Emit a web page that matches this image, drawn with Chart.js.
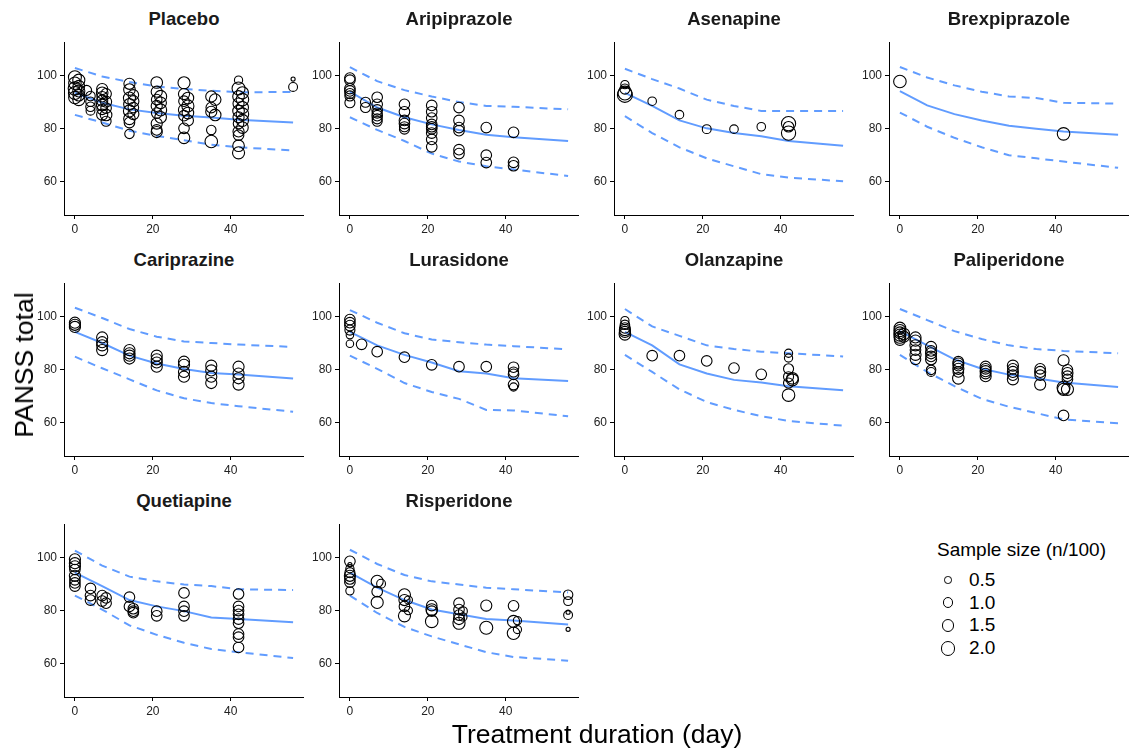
<!DOCTYPE html>
<html>
<head>
<meta charset="utf-8">
<script src="https://cdn.jsdelivr.net/npm/chart.js@4.4.1/dist/chart.umd.min.js"></script>
<style>
  body { margin: 0; background: #fff; font-family: "Liberation Sans", Arial, sans-serif; }
  #wrap { position: relative; width: 1129px; height: 751px; overflow: hidden; }
  #wrap canvas { position: absolute; }
  .facet-title { position: absolute; font-weight: bold; font-size: 18.5px; color: #1a1a1a; text-align: center; line-height: 22px; white-space: nowrap; }
  .axis-title { position: absolute; font-size: 26.5px; color: #000; white-space: nowrap; line-height: 30px; }
  #legend { position: absolute; left: 937px; top: 538px; font-size: 19px; color: #000; }
  .leg-row { position: absolute; left: 0; height: 22px; width: 80px; }
  .leg-dot { position: absolute; border: 1px solid #000; border-radius: 50%; box-sizing: border-box; }
  .leg-lab { position: absolute; left: 32px; top: 0; line-height: 22px; }
</style>
</head>
<body>
<div id="wrap"></div>
<script>
const lineDays = [0, 7, 14, 21, 28, 35, 42, 56];
const xTicks = [0, 20, 40];
const yTicks = [60, 80, 100];
const legendSizes = [0.5, 1.0, 1.5, 2.0];

// observed means: [day, PANSS total, sample size n/100]
const placeboObs = [
  [0, 99.5, 1.5], [1, 98.4, 1.3], [0, 97.2, 1.4], [1, 96.1, 1.2], [0, 95.2, 1.6], [1, 94.3, 1.3], [0, 93.5, 1.5], [1, 92.7, 1.2], [0, 91.8, 1.4], [1, 91.0, 1.3],
  [3, 94.5, 0.9], [4, 92.4, 0.8], [4, 90.2, 0.8], [4, 88.3, 0.8], [4, 86.8, 0.7],
  [7, 95.0, 1.1], [7, 93.6, 1.2], [7, 92.1, 1.0], [7, 90.6, 1.1], [7, 89.0, 1.2], [7, 87.3, 1.0], [7, 85.3, 1.1], [8, 93.2, 1.0], [8, 90.2, 1.1], [8, 87.8, 1.0], [8, 85.2, 1.2], [8, 82.8, 0.9],
  [14, 97.0, 1.1], [14, 94.8, 1.2], [15, 92.8, 1.0], [14, 91.6, 1.3], [15, 90.4, 1.1], [14, 89.2, 1.2], [15, 88.0, 1.0], [14, 86.7, 1.3], [15, 85.5, 1.1], [14, 83.7, 1.2], [14, 82.3, 1.0], [14, 78.0, 0.8],
  [21, 97.5, 1.2], [21, 94.0, 1.1], [22, 92.2, 1.3], [21, 91.0, 1.0], [22, 89.8, 1.2], [21, 88.6, 1.1], [22, 87.1, 1.3], [21, 85.9, 1.0], [22, 84.3, 1.2], [21, 81.9, 1.1], [21, 79.5, 1.0], [21, 78.7, 1.1],
  [28, 97.4, 1.3], [28, 93.1, 1.1], [29, 91.6, 1.2], [28, 90.4, 1.0], [29, 88.6, 1.3], [28, 87.1, 1.1], [29, 85.9, 1.2], [28, 84.9, 1.0], [29, 83.1, 1.1], [28, 80.1, 1.0], [28, 76.5, 1.2],
  [35, 92.2, 1.1], [36, 91.0, 1.2], [35, 88.0, 1.0], [35, 86.4, 1.1], [36, 85.2, 1.2], [35, 79.5, 0.8], [35, 75.1, 1.4],
  [42, 98.4, 0.6], [42, 95.2, 1.5], [43, 93.6, 1.3], [42, 92.2, 1.2], [43, 91.0, 1.4], [42, 89.5, 1.1], [43, 88.0, 1.3], [42, 86.7, 1.2], [43, 85.5, 1.4], [42, 84.3, 1.1], [43, 83.1, 1.3], [42, 81.9, 1.0], [43, 80.4, 1.2], [42, 78.9, 1.1], [42, 77.5, 1.0], [42, 73.5, 1.2], [42, 70.8, 1.3],
  [56, 95.8, 0.7], [56, 98.8, 0.15]
];
const placeboMedian = [93.6, 89.8, 87.3, 85.9, 84.9, 84.2, 83.4, 82.3];
const placeboLower = [85.2, 82.3, 79.2, 77.2, 75.6, 73.9, 72.9, 71.7];
const placeboUpper = [103.0, 99.8, 97.7, 96.0, 95.0, 94.4, 93.8, 93.9];

const aripiprazoleObs = [
  [0, 99.2, 1.0], [0, 98.4, 1.0], [0, 95.2, 1.0], [0, 94.3, 1.0], [0, 93.3, 0.9], [0, 92.4, 0.9], [0, 89.8, 0.9],
  [4, 90.0, 0.9], [4, 88.0, 0.9],
  [7, 91.9, 1.0], [7, 89.2, 1.0], [7, 87.1, 1.0], [7, 85.9, 0.9], [7, 84.9, 1.0], [7, 83.7, 0.9], [7, 82.8, 0.9],
  [14, 89.2, 1.0], [14, 86.4, 1.0], [14, 83.1, 1.0], [14, 81.9, 1.0], [14, 80.7, 0.9], [14, 79.8, 0.9],
  [21, 88.8, 1.0], [21, 86.4, 1.0], [21, 84.0, 1.0], [21, 81.6, 1.0], [21, 80.7, 1.0], [21, 79.9, 1.0], [21, 78.3, 1.0], [21, 75.9, 1.0], [21, 73.1, 1.0],
  [28, 88.0, 1.0], [28, 83.1, 1.0], [28, 80.4, 1.0], [28, 79.2, 1.0], [28, 72.0, 1.0], [28, 70.5, 1.0],
  [35, 80.4, 1.0], [35, 69.9, 1.0], [35, 67.1, 1.0],
  [42, 78.6, 1.0], [42, 67.2, 1.0], [42, 65.9, 1.0]
];
const aripiprazoleMedian = [94.0, 88.0, 84.3, 81.6, 79.5, 77.7, 76.7, 75.3];
const aripiprazoleLower = [84.3, 79.5, 75.3, 70.5, 67.5, 65.7, 64.5, 62.0];
const aripiprazoleUpper = [103.3, 98.0, 94.6, 92.2, 90.1, 88.6, 88.3, 87.3];

const asenapineObs = [
  [0, 96.7, 0.6], [0, 95.0, 0.9], [0, 93.5, 1.7], [0, 92.8, 2.0],
  [7, 90.4, 0.65], [14, 85.3, 0.65], [21, 79.8, 0.7], [28, 79.8, 0.65], [35, 80.7, 0.65],
  [42, 81.9, 1.8], [42, 80.7, 1.0], [42, 78.3, 1.8]
];
const asenapineMedian = [93.6, 88.6, 83.1, 80.1, 78.3, 77.1, 75.3, 73.5];
const asenapineLower = [84.7, 78.3, 72.9, 68.7, 65.7, 62.7, 61.4, 60.0];
const asenapineUpper = [102.7, 98.8, 95.2, 91.0, 88.6, 86.7, 86.7, 86.7];

const brexpiprazoleObs = [[0, 97.9, 1.4], [42, 78.0, 1.4]];
const brexpiprazoleMedian = [94.2, 88.8, 85.5, 83.1, 81.1, 79.9, 78.9, 77.7];
const brexpiprazoleLower = [86.1, 80.7, 76.5, 72.9, 69.9, 68.7, 67.5, 65.1];
const brexpiprazoleUpper = [103.4, 99.4, 96.4, 94.0, 92.2, 91.6, 89.8, 89.5];

const cariprazineObs = [
  [0, 97.8, 1.1], [0, 97.0, 1.1], [0, 96.2, 1.1],
  [7, 92.2, 1.1], [7, 90.4, 1.1], [7, 89.2, 1.1], [7, 87.4, 1.1],
  [14, 87.4, 1.1], [14, 86.2, 1.1], [14, 85.3, 1.1], [14, 84.2, 1.1],
  [21, 85.3, 1.1], [21, 83.9, 1.1], [21, 82.7, 1.1], [21, 81.1, 1.1],
  [28, 83.0, 1.1], [28, 81.8, 1.1], [28, 79.1, 1.1], [28, 77.3, 1.1],
  [35, 81.5, 1.1], [35, 79.7, 1.1], [35, 77.3, 1.1], [35, 74.9, 1.1],
  [42, 81.1, 1.1], [42, 78.5, 1.1], [42, 76.7, 1.1], [42, 74.3, 1.1]
];
const cariprazineMedian = [94.3, 90.1, 85.3, 82.3, 80.2, 78.7, 78.1, 76.6];
const cariprazineLower = [84.9, 80.5, 76.3, 72.1, 69.1, 67.3, 66.1, 64.0];
const cariprazineUpper = [103.5, 99.6, 95.4, 92.5, 90.7, 90.1, 89.5, 88.6];

const lurasidoneObs = [
  [0, 99.0, 1.0], [0, 97.8, 1.0], [0, 96.7, 1.0], [0, 95.0, 0.9], [0, 93.1, 0.5], [0, 89.8, 0.5],
  [3, 89.6, 1.0], [7, 86.8, 1.0], [14, 84.7, 1.0], [21, 81.8, 1.0], [28, 81.1, 1.0], [35, 81.1, 1.0],
  [42, 80.9, 1.0], [42, 79.1, 0.9], [42, 78.2, 1.0], [42, 74.3, 1.0], [42, 73.4, 0.6]
];
const lurasidoneMedian = [94.3, 89.2, 85.6, 82.7, 79.4, 78.5, 76.7, 75.7];
const lurasidoneLower = [85.3, 80.3, 74.9, 71.5, 68.9, 64.7, 64.5, 62.3];
const lurasidoneUpper = [102.6, 97.8, 93.8, 91.4, 90.4, 89.5, 88.9, 87.7];

const olanzapineObs = [
  [0, 98.6, 0.6], [0, 97.0, 0.8], [0, 95.8, 1.0], [0, 95.0, 1.1], [0, 94.3, 1.1], [0, 93.4, 1.2],
  [7, 85.3, 1.0], [14, 85.3, 1.0], [21, 83.3, 1.0], [28, 80.6, 1.0], [35, 78.2, 1.0],
  [42, 86.2, 0.6], [42, 84.4, 0.6], [42, 80.3, 0.9], [42, 77.3, 0.9], [42, 74.9, 0.9], [42, 70.3, 1.4], [43, 76.1, 1.3], [43, 76.7, 1.2]
];
const olanzapineMedian = [94.3, 89.2, 82.0, 78.5, 76.1, 75.1, 73.7, 72.2];
const olanzapineLower = [85.6, 79.1, 72.5, 67.7, 64.7, 62.3, 60.5, 58.7];
const olanzapineUpper = [103.0, 96.4, 92.8, 89.2, 87.8, 86.8, 86.2, 85.0];

const paliperidoneObs = [
  [0, 95.8, 1.2], [0, 94.8, 1.3], [0, 94.0, 1.2], [0, 93.1, 1.3], [0, 92.2, 1.2], [0, 91.3, 1.1], [1, 93.5, 1.2], [1, 92.5, 1.1],
  [4, 92.2, 1.1], [4, 91.0, 1.1], [4, 89.2, 1.1], [4, 87.4, 1.0], [4, 85.6, 1.1], [4, 83.9, 1.0],
  [8, 88.6, 1.1], [8, 87.1, 1.0], [8, 86.2, 1.1], [8, 85.0, 1.0], [8, 83.9, 1.1], [8, 79.9, 0.8], [8, 79.1, 0.7],
  [15, 83.0, 1.0], [15, 82.3, 1.1], [15, 81.5, 1.0], [15, 80.3, 1.1], [15, 79.1, 1.0], [15, 76.7, 1.2],
  [22, 81.1, 1.1], [22, 80.3, 1.0], [22, 79.4, 1.1], [22, 78.5, 1.0], [22, 77.5, 1.1],
  [29, 81.5, 1.1], [29, 80.3, 1.0], [29, 79.1, 1.1], [29, 77.9, 1.0], [29, 76.3, 1.1],
  [36, 80.3, 1.0], [36, 79.1, 1.1], [36, 77.9, 1.0], [36, 74.3, 1.1],
  [42, 83.5, 1.1], [42, 73.1, 1.5], [42, 72.5, 1.3], [42, 62.6, 1.0],
  [43, 79.9, 1.0], [43, 78.7, 1.1], [43, 77.5, 1.0], [43, 76.3, 1.0], [43, 72.5, 1.3]
];
const paliperidoneMedian = [94.6, 89.2, 83.9, 80.3, 78.1, 76.7, 75.1, 73.4];
const paliperidoneLower = [85.6, 79.1, 73.7, 68.9, 65.9, 63.5, 61.1, 59.6];
const paliperidoneUpper = [103.0, 98.8, 94.6, 91.6, 89.2, 87.8, 87.1, 86.2];

const quetiapineObs = [
  [0, 99.5, 1.1], [0, 98.0, 1.1], [0, 96.8, 1.1], [0, 95.6, 1.0], [0, 93.2, 1.1], [0, 91.7, 1.0], [0, 90.5, 1.0], [0, 89.3, 1.0],
  [4, 88.4, 1.0], [4, 85.7, 1.0], [4, 84.0, 1.0],
  [7, 85.7, 1.0], [8, 84.8, 1.0], [7, 83.6, 1.0], [8, 82.8, 1.0],
  [14, 85.1, 1.0], [14, 81.6, 1.0], [15, 80.7, 1.0], [15, 79.8, 1.0], [15, 79.2, 1.0],
  [21, 79.8, 1.0], [21, 78.0, 1.0],
  [28, 86.7, 1.0], [28, 81.6, 1.0], [28, 79.8, 1.0], [28, 78.0, 1.0],
  [42, 86.3, 1.0], [42, 81.6, 1.0], [42, 80.0, 1.0], [42, 78.6, 1.0], [42, 76.8, 1.0], [42, 75.2, 1.0], [42, 71.1, 1.0], [42, 69.9, 1.0], [42, 66.0, 1.0]
];
const quetiapineMedian = [94.4, 89.3, 84.0, 81.6, 79.8, 77.4, 76.8, 75.6];
const quetiapineLower = [85.7, 80.4, 74.4, 70.8, 67.8, 65.4, 64.2, 62.0];
const quetiapineUpper = [102.8, 97.1, 92.9, 91.1, 89.9, 89.3, 88.1, 87.8];

const risperidoneObs = [
  [0, 98.7, 1.0], [0, 97.5, 0.15], [0, 95.9, 0.6], [0, 94.4, 0.9], [0, 93.2, 1.1], [0, 92.0, 1.0], [0, 90.8, 1.0], [0, 87.5, 0.6],
  [7, 91.1, 1.3], [7, 87.2, 1.0], [7, 83.1, 1.3], [8, 90.2, 0.7],
  [14, 86.0, 1.3], [14, 84.0, 1.1], [14, 81.6, 1.0], [14, 78.0, 1.3], [15, 84.0, 0.6], [15, 80.0, 0.6],
  [21, 81.9, 1.0], [21, 80.4, 1.2], [21, 79.8, 1.0], [21, 75.9, 1.4],
  [28, 82.8, 1.0], [28, 80.4, 1.0], [28, 78.3, 1.0], [28, 76.8, 1.1], [28, 75.2, 1.3], [29, 79.8, 0.7], [29, 77.6, 0.6],
  [35, 81.9, 1.1], [35, 73.5, 1.5],
  [42, 81.8, 1.0], [42, 75.9, 1.3], [42, 71.4, 1.4], [43, 76.2, 0.6], [43, 72.8, 0.6],
  [56, 86.0, 0.8], [56, 83.6, 0.7], [56, 79.4, 0.15], [56, 78.3, 0.7], [56, 72.9, 0.15]
];
const risperidoneMedian = [94.4, 88.7, 84.0, 80.4, 78.6, 76.8, 76.2, 74.7];
const risperidoneLower = [85.7, 79.1, 73.8, 70.2, 67.2, 64.2, 62.4, 61.0];
const risperidoneUpper = [103.1, 97.7, 93.5, 91.1, 89.9, 88.7, 88.1, 86.9];

const panels = [
  { name: "Placebo", obs: placeboObs, median: placeboMedian, lower: placeboLower, upper: placeboUpper },
  { name: "Aripiprazole", obs: aripiprazoleObs, median: aripiprazoleMedian, lower: aripiprazoleLower, upper: aripiprazoleUpper },
  { name: "Asenapine", obs: asenapineObs, median: asenapineMedian, lower: asenapineLower, upper: asenapineUpper },
  { name: "Brexpiprazole", obs: brexpiprazoleObs, median: brexpiprazoleMedian, lower: brexpiprazoleLower, upper: brexpiprazoleUpper },
  { name: "Cariprazine", obs: cariprazineObs, median: cariprazineMedian, lower: cariprazineLower, upper: cariprazineUpper },
  { name: "Lurasidone", obs: lurasidoneObs, median: lurasidoneMedian, lower: lurasidoneLower, upper: lurasidoneUpper },
  { name: "Olanzapine", obs: olanzapineObs, median: olanzapineMedian, lower: olanzapineLower, upper: olanzapineUpper },
  { name: "Paliperidone", obs: paliperidoneObs, median: paliperidoneMedian, lower: paliperidoneLower, upper: paliperidoneUpper },
  { name: "Quetiapine", obs: quetiapineObs, median: quetiapineMedian, lower: quetiapineLower, upper: quetiapineUpper },
  { name: "Risperidone", obs: risperidoneObs, median: risperidoneMedian, lower: risperidoneLower, upper: risperidoneUpper }
];

// facet grid geometry
const COL_LEFT = [64, 339, 614, 889];
const ROW_TOP = [32, 273, 514];
const PLOT_W = 240, PLOT_H = 183;
const AXIS_W = 44, AXIS_H = 26;
const X_MIN = -2.8, X_MAX = 58.8;
const Y_MIN = 47.2, Y_MAX = 112.8;
const BLUE = "#619CFF";
const FONT = "'Liberation Sans', Arial, sans-serif";

const wrap = document.getElementById("wrap");

function sizeRadius(n) {
  return 5.3 * Math.sqrt(n);
}

function axisOptions(min, max, ticks, fitFn) {
  return {
    type: "linear",
    min: min,
    max: max,
    afterBuildTicks: (s) => { s.ticks = ticks.map((v) => ({ value: v })); },
    afterFit: fitFn,
    grid: { display: true, drawOnChartArea: false, drawTicks: true, tickLength: 4, color: "#000", lineWidth: 1 },
    border: { display: true, color: "#000", width: 1 },
    ticks: { color: "#222", font: { family: FONT, size: 12 }, padding: 3, maxRotation: 0 }
  };
}

function buildPanel(panel, i) {
  const col = i % 4;
  const row = Math.floor(i / 4);
  const left = COL_LEFT[col];
  const top = ROW_TOP[row];

  const canvas = document.createElement("canvas");
  canvas.width = AXIS_W + PLOT_W;
  canvas.height = PLOT_H + AXIS_H;
  canvas.style.left = (left - AXIS_W) + "px";
  canvas.style.top = top + "px";
  wrap.appendChild(canvas);

  const title = document.createElement("div");
  title.className = "facet-title";
  title.textContent = panel.name;
  title.style.left = left + "px";
  title.style.width = PLOT_W + "px";
  title.style.top = (top - 24) + "px";
  wrap.appendChild(title);

  const band = (vals) => lineDays.map((d, k) => ({ x: d, y: vals[k] }));
  const lineSet = (vals, dash) => ({
    data: band(vals),
    showLine: true,
    borderColor: BLUE,
    borderWidth: 2,
    borderDash: dash,
    pointRadius: 0,
    fill: false
  });

  new Chart(canvas, {
    type: "scatter",
    data: {
      datasets: [
        {
          data: panel.obs.map(([d, s, n]) => ({ x: d, y: s, n: n })),
          pointRadius: (ctx) => (ctx.raw ? sizeRadius(ctx.raw.n) : 0),
          pointBorderColor: "#000",
          pointBackgroundColor: "rgba(0,0,0,0)",
          pointBorderWidth: 1.1,
          clip: false
        },
        lineSet(panel.median, []),
        lineSet(panel.lower, [8, 6]),
        lineSet(panel.upper, [8, 6])
      ]
    },
    options: {
      responsive: false,
      animation: false,
      events: [],
      layout: { padding: 0, autoPadding: false },
      plugins: { legend: { display: false }, tooltip: { enabled: false } },
      scales: {
        x: axisOptions(X_MIN, X_MAX, xTicks, (s) => { s.height = AXIS_H; }),
        y: axisOptions(Y_MIN, Y_MAX, yTicks, (s) => { s.width = AXIS_W; })
      }
    }
  });
}

panels.forEach(buildPanel);

// shared axis titles
const yTitle = document.createElement("div");
yTitle.className = "axis-title";
yTitle.textContent = "PANSS total";
yTitle.style.left = "24px";
yTitle.style.top = "365px";
yTitle.style.transform = "translate(-50%, -50%) rotate(-90deg)";
wrap.appendChild(yTitle);

const xTitle = document.createElement("div");
xTitle.className = "axis-title";
xTitle.textContent = "Treatment duration (day)";
xTitle.style.left = "597px";
xTitle.style.top = "734px";
xTitle.style.transform = "translate(-50%, -50%)";
wrap.appendChild(xTitle);

// size legend
const legend = document.createElement("div");
legend.id = "legend";
legend.innerHTML = '<div style="position:absolute;left:0;top:0;line-height:24px;white-space:nowrap;">Sample size (n/100)</div>';
legendSizes.forEach((n, k) => {
  const r = sizeRadius(n);
  const rowEl = document.createElement("div");
  rowEl.className = "leg-row";
  rowEl.style.top = (31 + k * 22.7) + "px";
  const dot = document.createElement("div");
  dot.className = "leg-dot";
  dot.style.width = dot.style.height = (2 * r) + "px";
  dot.style.left = (11 - r) + "px";
  dot.style.top = (11 - r) + "px";
  const lab = document.createElement("div");
  lab.className = "leg-lab";
  lab.textContent = n.toFixed(1);
  rowEl.appendChild(dot);
  rowEl.appendChild(lab);
  legend.appendChild(rowEl);
});
wrap.appendChild(legend);
</script>
</body>
</html>
